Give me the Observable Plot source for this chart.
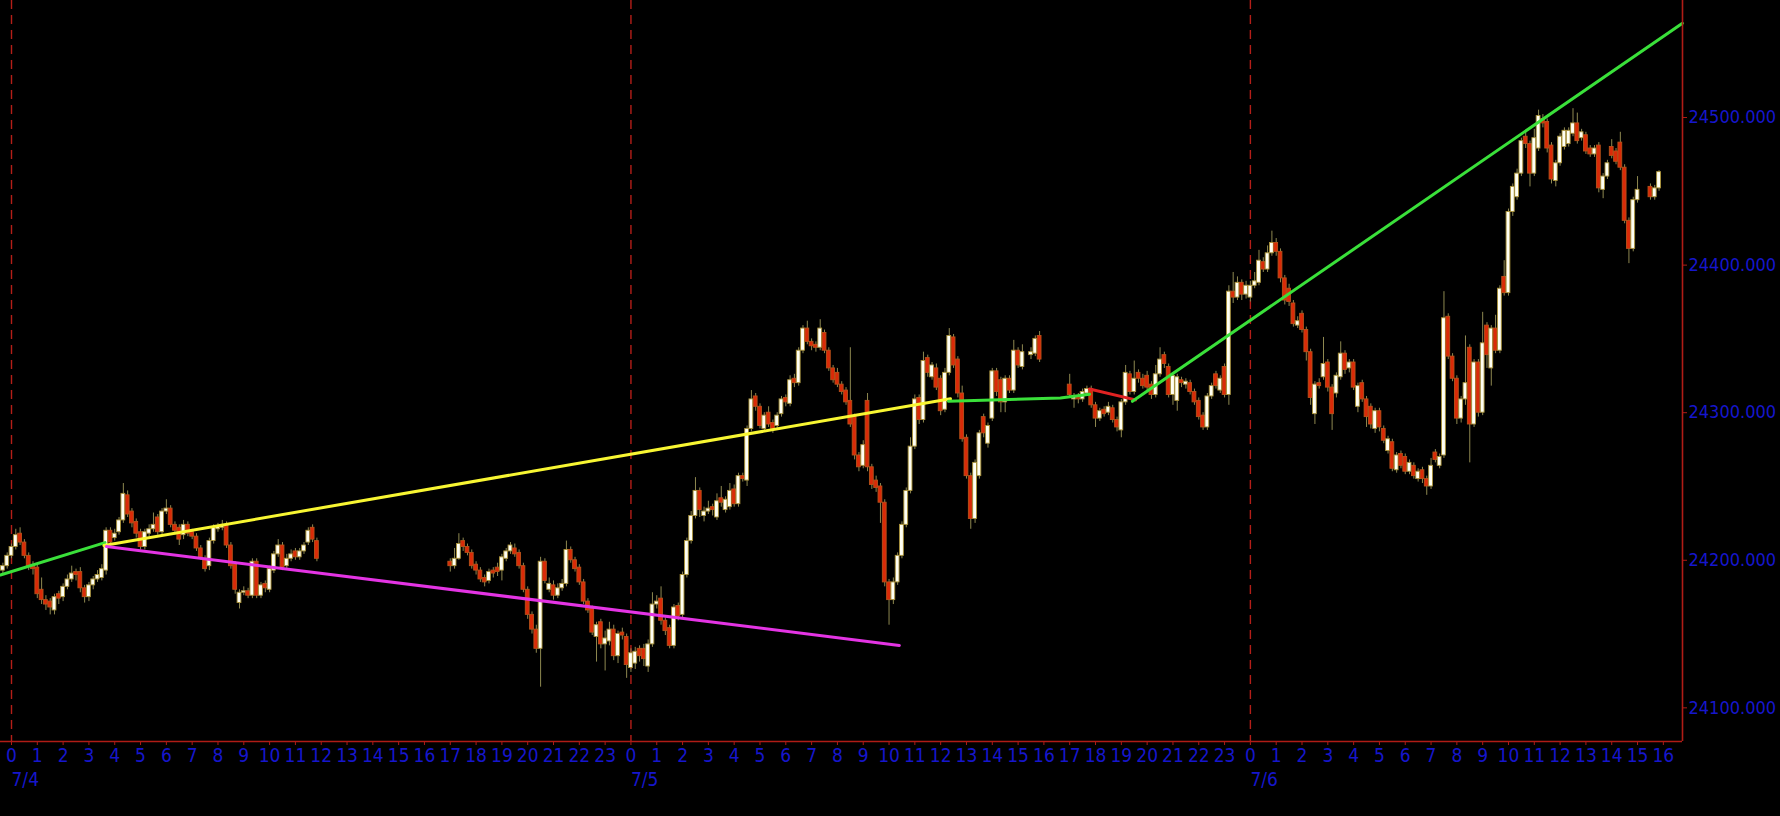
<!DOCTYPE html>
<html><head><meta charset="utf-8">
<script src="https://cdn.jsdelivr.net/npm/d3@7"></script>
<script src="https://cdn.jsdelivr.net/npm/@observablehq/plot@0.6"></script>
<style>
html,body{margin:0;padding:0;background:#000;overflow:hidden;}
#chart svg{display:block;background:#000;}
</style></head><body><div id="chart"></div>
<script>
// 10-minute bars; slot index counted from 7/4 00:00
const slotsPerHour = 6;
const segmentStartSlots = [-2, 102, 144, 237, 246, 381];

// [open, high, low, close]
const bars_0704_am = [
[24193,24198,24190,24196],[24196,24205,24194,24203],[24203,24211,24201,24209],[24209,24221,24207,24217],
[24218,24222,24210,24212],[24212,24214,24201,24203],[24203,24205,24193,24196],[24196,24199,24190,24194],
[24195,24197,24174,24177],[24180,24188,24170,24173],[24173,24176,24166,24170],[24172,24174,24163,24168],
[24166,24177,24163,24175],[24177,24179,24170,24174],[24175,24184,24172,24182],[24182,24190,24180,24187],
[24187,24196,24185,24191],[24192,24194,24186,24190],[24192,24195,24178,24181],[24181,24183,24171,24175],
[24175,24185,24172,24183],[24183,24189,24180,24187],[24187,24193,24185,24190],[24188,24197,24186,24194],
[24193,24222,24190,24220],[24220,24222,24209,24212],[24215,24221,24213,24218],[24219,24229,24217,24227],
[24227,24252,24225,24245],[24244,24247,24229,24231],[24233,24235,24222,24225],[24226,24228,24215,24218],
[24219,24221,24207,24209],[24209,24221,24207,24219],[24218,24224,24216,24221],[24221,24232,24219,24224],
[24229,24231,24217,24219],[24219,24235,24217,24233],[24233,24241,24231,24235],[24235,24237,24222,24224],
[24224,24226,24217,24220],[24222,24224,24210,24214],[24217,24227,24214,24224],[24224,24226,24216,24218],
[24219,24221,24214,24216],[24216,24218,24206,24208],[24208,24210,24200,24202],[24201,24203,24192,24194],
[24196,24215,24193,24213],[24213,24224,24211,24222],[24221,24225,24219,24223],[24222,24227,24220,24224],
[24224,24226,24208,24210],[24210,24212,24194,24196],[24197,24199,24177,24180],[24171,24180,24167,24178],
[24178,24182,24176,24179],[24179,24181,24174,24176],[24176,24201,24174,24199],[24199,24201,24174,24176],
[24176,24185,24174,24183],[24184,24186,24178,24181],[24180,24196,24178,24194],[24193,24206,24191,24204],
[24204,24214,24202,24210],[24210,24212,24193,24195],[24196,24204,24194,24201],[24201,24207,24199,24204],
[24206,24208,24200,24202],[24202,24208,24200,24206],[24206,24212,24204,24210],[24212,24222,24210,24220],
[24222,24224,24212,24214],[24213,24215,24199,24201]
];
const bars_0704_pm = [
[24199,24201,24192,24196],[24196,24208,24194,24201],[24201,24218,24200,24211],[24213,24215,24206,24209],
[24209,24211,24203,24205],[24205,24207,24194,24196],[24197,24199,24190,24193],[24193,24195,24185,24187],
[24188,24190,24182,24185],[24186,24194,24184,24192],[24193,24195,24188,24191],[24195,24198,24189,24192],
[24193,24204,24186,24202],[24201,24208,24199,24206],[24206,24212,24204,24210],[24208,24211,24202,24204],
[24205,24207,24194,24196],[24196,24198,24178,24180],[24180,24182,24160,24163],[24163,24165,24150,24153],
[24153,24156,24137,24140],[24140,24202,24114,24199],[24199,24201,24184,24186],[24180,24188,24178,24184],
[24183,24186,24173,24176],[24176,24184,24174,24181],[24181,24187,24179,24184],[24184,24213,24182,24207],
[24207,24209,24198,24200],[24200,24202,24192,24194],[24195,24197,24183,24185],[24185,24187,24170,24172],
[24172,24174,24164,24166],[24167,24169,24149,24151],[24148,24158,24131,24156],[24158,24160,24140,24143],
[24143,24152,24125,24147],[24145,24158,24142,24153],[24153,24156,24132,24135],[24135,24152,24130,24150],
[24151,24154,24146,24149],[24148,24150,24120,24129]
];
const bars_0705 = [
[24127,24140,24124,24137],[24130,24141,24126,24138],[24140,24142,24131,24135],[24140,24143,24128,24133],
[24128,24146,24124,24143],[24143,24178,24141,24170],[24170,24176,24167,24172],[24174,24182,24156,24159],
[24159,24161,24149,24152],[24154,24156,24140,24142],[24142,24170,24140,24168],[24169,24171,24159,24162],
[24163,24192,24161,24190],[24190,24215,24188,24213],[24213,24233,24211,24230],[24230,24256,24228,24247],
[24247,24249,24229,24234],[24230,24236,24226,24233],[24233,24240,24231,24235],[24236,24238,24230,24234],
[24229,24245,24227,24240],[24242,24250,24236,24239],[24234,24243,24232,24241],[24236,24252,24234,24247],
[24248,24251,24236,24238],[24238,24259,24236,24257],[24257,24259,24253,24255],[24254,24291,24250,24289],
[24289,24315,24287,24309],[24311,24313,24301,24304],[24304,24306,24289,24291],[24289,24300,24287,24298],
[24300,24304,24290,24292],[24293,24295,24286,24289],[24291,24300,24289,24298],[24299,24311,24297,24309],
[24310,24312,24304,24307],[24306,24325,24304,24322],[24323,24326,24317,24320],[24320,24344,24318,24342],
[24342,24359,24340,24357],[24357,24362,24346,24348],[24348,24350,24342,24345],[24346,24348,24341,24344],
[24344,24363,24342,24357],[24354,24356,24340,24342],[24342,24344,24328,24330],[24330,24332,24320,24322],
[24327,24330,24317,24319],[24319,24321,24312,24314],[24315,24317,24305,24307],[24308,24344,24290,24292],
[24297,24299,24268,24271],[24271,24273,24260,24263],[24264,24281,24262,24278],[24308,24313,24260,24263],
[24263,24265,24248,24251],[24254,24257,24246,24249],[24250,24252,24225,24239],[24239,24241,24182,24185],
[24185,24187,24156,24173],[24173,24188,24170,24185],[24185,24205,24183,24203],[24203,24226,24201,24224],
[24224,24249,24222,24247],[24247,24283,24245,24277],[24277,24312,24275,24309],[24310,24312,24292,24295],
[24295,24341,24293,24335],[24337,24339,24324,24327],[24324,24334,24322,24332],[24330,24333,24315,24317],
[24323,24325,24298,24301],[24302,24330,24300,24327],[24327,24357,24325,24352],[24351,24353,24330,24332],
[24336,24338,24310,24313],[24313,24318,24280,24282],[24283,24285,24255,24257],[24257,24259,24221,24228],
[24228,24268,24225,24266],[24257,24288,24255,24286],[24297,24299,24283,24286],[24279,24293,24276,24291],
[24296,24330,24294,24328],[24328,24330,24311,24314],[24322,24324,24300,24307],[24307,24325,24300,24323],
[24323,24325,24313,24315],[24315,24349,24313,24342],[24342,24344,24330,24332],[24331,24346,24329,24341]
];
const bars_0705_close = [
[24339,24344,24336,24341],[24340,24352,24338,24350],[24352,24355,24334,24336]
];
const bars_0705_night_0706 = [
[24319,24326,24310,24312],[24309,24313,24303,24311],[24311,24313,24306,24309],[24309,24316,24307,24314],
[24313,24318,24311,24316],[24316,24318,24303,24305],[24305,24307,24290,24296],[24296,24303,24294,24301],
[24302,24304,24297,24299],[24300,24307,24298,24304],[24303,24305,24293,24295],[24295,24297,24287,24290],
[24288,24309,24283,24307],[24307,24332,24305,24327],[24326,24328,24312,24314],[24314,24335,24312,24323],
[24327,24329,24320,24323],[24323,24326,24316,24318],[24325,24328,24315,24317],[24319,24321,24309,24312],
[24312,24332,24310,24326],[24326,24344,24324,24336],[24339,24341,24330,24333],[24331,24333,24310,24312],
[24312,24327,24305,24325],[24308,24326,24301,24324],[24322,24324,24317,24320],[24319,24323,24316,24321],
[24320,24322,24312,24314],[24314,24316,24305,24307],[24308,24310,24295,24297],[24298,24300,24288,24290],
[24290,24313,24288,24311],[24311,24320,24309,24318],[24326,24328,24316,24318],[24315,24325,24313,24323],
[24331,24333,24310,24312],[24312,24386,24305,24382],[24382,24395,24374,24378],[24378,24392,24376,24388],
[24388,24390,24376,24380],[24380,24389,24377,24386],
[24378,24389,24375,24386],[24386,24395,24384,24389],[24388,24410,24386,24403],[24402,24405,24395,24397],
[24397,24413,24395,24408],[24408,24423,24406,24415],[24415,24418,24406,24409],[24409,24411,24388,24391],
[24391,24393,24373,24376],[24384,24387,24372,24375],[24374,24376,24358,24360],[24359,24365,24357,24362],
[24367,24369,24354,24356],[24356,24358,24335,24341],[24341,24343,24305,24310],[24299,24321,24292,24319],
[24320,24323,24316,24318],[24324,24351,24322,24333],[24334,24336,24314,24317],[24317,24319,24288,24299],
[24313,24327,24310,24325],[24324,24348,24322,24340],[24340,24342,24326,24329],[24330,24336,24327,24334],
[24334,24336,24315,24317],[24304,24320,24300,24318],[24320,24322,24307,24309],[24309,24311,24290,24297],
[24304,24306,24289,24292],[24289,24303,24286,24301],[24301,24303,24287,24290],[24289,24291,24279,24281],
[24274,24284,24272,24282],[24280,24282,24260,24262],[24261,24273,24259,24271],[24272,24274,24262,24264],
[24270,24272,24258,24260],[24260,24268,24258,24266],[24264,24266,24255,24257],[24255,24262,24253,24260],
[24261,24263,24252,24255],[24255,24257,24244,24250],[24250,24269,24248,24264],[24273,24275,24266,24268],
[24264,24272,24262,24270],[24271,24382,24269,24364],[24365,24367,24336,24338],[24338,24340,24321,24323],
[24323,24325,24292,24296],[24296,24311,24293,24309],[24309,24352,24305,24320],[24344,24346,24266,24292],
[24292,24336,24290,24334],[24334,24336,24297,24300],[24300,24368,24298,24347],[24359,24361,24330,24339],
[24330,24359,24318,24357],[24357,24366,24340,24342],[24342,24386,24340,24384],[24392,24403,24379,24381],
[24381,24438,24379,24436],[24436,24455,24433,24453],[24446,24465,24444,24462],[24462,24486,24460,24484],
[24487,24490,24479,24482],[24482,24484,24453,24462],[24462,24492,24460,24486],[24479,24505,24477,24501],
[24499,24502,24493,24496],[24497,24499,24476,24479],[24481,24483,24455,24458],[24457,24471,24453,24469],
[24469,24489,24467,24487],[24480,24493,24478,24491],[24482,24493,24480,24491],[24489,24506,24487,24496],
[24496,24503,24482,24484],[24486,24492,24484,24490],[24488,24490,24475,24477],[24479,24481,24473,24475],
[24475,24481,24473,24479],[24481,24483,24449,24452],[24451,24462,24445,24460],[24460,24471,24458,24469],
[24480,24485,24472,24474],[24477,24479,24468,24470],[24483,24490,24464,24466],[24466,24468,24428,24430],
[24430,24432,24401,24411],[24411,24446,24409,24444],[24444,24460,24442,24451]
];
const bars_0706_close = [
[24453,24455,24444,24446],[24446,24454,24444,24452],[24452,24464,24450,24463]
];

// drawn trend lines: hours since 7/4 00:00 and price
const supportGreenH = [-0.43, 3.62];
const supportGreenV = [24190, 24212];
const yellowH = [3.58, 36.38];
const yellowV = [24210, 24309.4];
const magentaH = [3.68, 34.40];
const magentaV = [24209.3, 24142.3];
const flatGreenH = [36.30, 40.64, 41.77];
const flatGreenV = [24307.7, 24310, 24312.5];
const redH = [41.77, 43.55];
const redV = [24316, 24308.7];
const riseGreenH = [43.43, 64.74];
const riseGreenV = [24307.7, 24563.9];

// axes
const priceTicks = [24100, 24200, 24300, 24400, 24500];
const hourTicks = d3.range(0, 65);
const dayStarts = [0, 24, 48];
const dayLabels = ["7/4", "7/5", "7/6"];
const xDomain = [-0.4262, 64.742];
const yDomain = [24077.2, 24579.3];

const segments = [bars_0704_am, bars_0704_pm, bars_0705, bars_0705_close, bars_0705_night_0706, bars_0706_close];
const candles = [];
segments.forEach((seg, s) => seg.forEach(([o, h, l, c], i) => {
  candles.push({t: (segmentStartSlots[s] + i) / slotsPerHour, o, h, l, c});
}));
const toPts = (H, V) => H.map((h, i) => ({h, v: V[i]}));
const days = dayStarts.map((h, i) => ({h, label: dayLabels[i]}));

const frameRed = "#b01c16";
const labelBlue = "#1616cc";
const halfW = 0.074;
const lineW = 3;

const chart = Plot.plot({
  width: 1780,
  height: 816,
  marginLeft: 0,
  marginRight: 98,
  marginTop: 0,
  marginBottom: 75,
  style: {background: "#000", fontFamily: "'DejaVu Sans Condensed', 'DejaVu Sans', sans-serif", overflow: "visible"},
  x: {domain: xDomain, axis: null},
  y: {domain: yDomain, axis: null},
  color: {type: "identity"},
  marks: [
    Plot.ruleX(dayStarts, {stroke: "#b41e18", strokeWidth: 1.4, strokeDasharray: "9,6"}),
    Plot.ruleX(candles, {x: "t", y1: "l", y2: "h", stroke: "#8e8850", strokeWidth: 1}),
    Plot.rect(candles, {
      x1: d => d.t - halfW, x2: d => d.t + halfW, y1: "o", y2: "c",
      fill: d => d.c >= d.o ? "#fffff4" : "#da2a08",
      stroke: d => d.c >= d.o ? "#aa9238" : "#b8521a",
      strokeWidth: 0.9
    }),
    Plot.line(toPts(supportGreenH, supportGreenV), {x: "h", y: "v", stroke: "#3ae03a", strokeWidth: lineW}),
    Plot.line(toPts(yellowH, yellowV), {x: "h", y: "v", stroke: "#f8f632", strokeWidth: lineW}),
    Plot.line(toPts(magentaH, magentaV), {x: "h", y: "v", stroke: "#e434e4", strokeWidth: lineW}),
    Plot.line(toPts(flatGreenH, flatGreenV), {x: "h", y: "v", stroke: "#3ae03a", strokeWidth: lineW}),
    Plot.line(toPts(redH, redV), {x: "h", y: "v", stroke: "#e02222", strokeWidth: lineW}),
    Plot.line(toPts(riseGreenH, riseGreenV), {x: "h", y: "v", stroke: "#3ae03a", strokeWidth: lineW}),
    Plot.ruleY([yDomain[0]], {stroke: frameRed, strokeWidth: 1.6}),
    Plot.ruleX([xDomain[1]], {stroke: frameRed, strokeWidth: 1.6}),
    Plot.axisX(hourTicks, {
      tickSize: 4, tickPadding: 3, tickFormat: h => String(h % 24),
      stroke: frameRed, fill: labelBlue, fontSize: 19
    }),
    Plot.axisY(priceTicks, {
      anchor: "right", tickSize: 4, tickPadding: 2, tickFormat: v => v.toFixed(3),
      stroke: frameRed, fill: labelBlue, fontSize: 18
    }),
    Plot.text(days, {x: "h", text: "label", frameAnchor: "bottom", dy: 44, textAnchor: "start", fill: labelBlue, fontSize: 19})
  ]
});
document.getElementById("chart").append(chart);
</script>
</body></html>
